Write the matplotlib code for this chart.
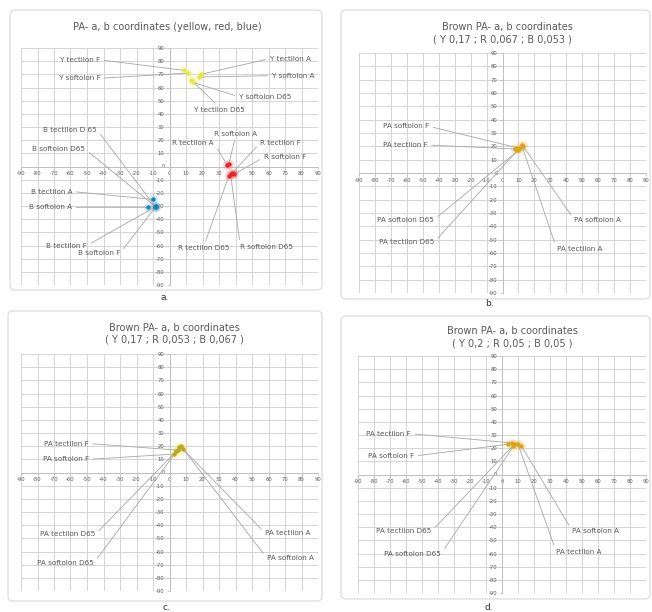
import matplotlib
matplotlib.use("Agg")
import matplotlib.pyplot as plt
from matplotlib.patches import FancyBboxPatch

plt.rcParams["axes.unicode_minus"] = False

W, H = 652, 612

# panel a: yellow, red, blue samples
y_names = ["Y tectilon F", "Y softolon F", "Y tectilon A", "Y softolon A", "Y softolon D65", "Y tectilon D65"]
y_a = [9, 11, 19, 18, 14, 13]
y_b = [73, 71, 70, 68, 64, 66]

r_names = ["R softolon A", "R tectilon A", "R tectilon F", "R softolon F", "R tectilon D65", "R softolon D65"]
r_a = [36, 35, 38, 39, 36, 37]
r_b = [2, 1, -5, -6, -7, -6]

b_names = ["B tectilon D 65", "B softolon D65", "B tectilon A", "B softolon A", "B tectilon F", "B softolon F"]
b_a = [-9, -8, -10, -13, -9, -8]
b_b = [-30, -31, -25, -31, -31, -30]

# panels b, c, d: brown samples
pa_names_b = ["PA softolon F", "PA tectilon F", "PA softolon D65", "PA tectilon D65", "PA softolon A", "PA tectilon A"]
pa_a_b = [9, 8, 10, 11, 13, 12]
pa_b_b = [19, 18, 17, 19, 20, 21]

pa_names_c = ["PA tectilon F", "PA softolon F", "PA tectilon D65", "PA softolon D65", "PA tectilon A", "PA softolon A"]
pa_a_c = [5, 3, 4, 6, 8, 7]
pa_b_c = [17, 14, 16, 19, 18, 20]

pa_names_d = ["PA tectilon F", "PA softolon F", "PA tectilon D65", "PA softolon D65", "PA softolon A", "PA tectilon A"]
pa_a_d = [6, 4, 7, 8, 12, 10]
pa_b_d = [24, 23, 22, 23, 22, 23]

ticks = list(range(-90, 100, 10))

# label placement (text anchor, alignment) per panel, same order as names
lab_y = [(-42, 81, "right"), (-42, 67, "right"), (61, 82, "left"), (62, 69, "left"), (42, 53, "left"), (30, 43, "top")]
lab_r = [(40, 25, "top"), (27, 18, "right"), (55, 18, "left"), (57, 7, "left"), (21, -62, "top"), (43, -61, "left")]
lab_bl = [(-44, 28, "right"), (-51, 13, "right"), (-59, -19, "right"), (-59, -31, "right"), (-50, -60, "right"), (-30, -66, "right")]
lab_pb = [(-46, 35, "right"), (-47, 21, "right"), (-43, -35, "right"), (-43, -52, "right"), (45, -35, "left"), (34, -57, "left")]
lab_pc = [(-49, 22, "right"), (-49, 10, "right"), (-45, -47, "right"), (-46, -69, "right"), (58, -46, "left"), (59, -65, "left")]
lab_pd = [(-57, 31, "right"), (-55, 14, "right"), (-44, -43, "right"), (-38, -60, "right"), (44, -43, "left"), (34, -59, "left")]


def px_axes(fig, l, t, r, b):
    return fig.add_axes([l / W, 1 - b / H, (r - l) / W, (b - t) / H])


def box(fig, l, t, r, b):
    p = FancyBboxPatch((l / W, 1 - b / H), (r - l) / W, (b - t) / H,
                       boxstyle="round,pad=0,rounding_size=0.008",
                       transform=fig.transFigure, fc="none", ec="#d9d9d9", lw=0.8)
    fig.patches.append(p)


def setup(ax):
    ax.set_xlim(-90, 90)
    ax.set_ylim(-90, 90)
    ax.set_xticks(ticks)
    ax.set_yticks(ticks)
    ax.grid(True, color="#d4d4d4", lw=0.7)
    for s in ["top", "right"]:
        ax.spines[s].set_visible(False)
    for s in ["left", "bottom"]:
        ax.spines[s].set_position("zero")
        ax.spines[s].set_color("#bfbfbf")
        ax.spines[s].set_linewidth(0.7)
    ax.tick_params(labelsize=3.8, labelcolor="#595959", length=2, color="#bfbfbf", width=0.5, pad=1.5)
    ax.set_facecolor("none")
    ax.set_axisbelow(True)


def labels(ax, names, xs, ys, places):
    for n, x, y, (tx, ty, al) in zip(names, xs, ys, places):
        if al == "right":
            ha, va, rel = "right", "center", (1, 0.5)
        elif al == "left":
            ha, va, rel = "left", "center", (0, 0.5)
        else:
            ha, va, rel = "center", "center", (0.5, 1) if ty < y else (0.5, 0)
        ax.annotate(n, xy=(x, y), xytext=(tx, ty), fontsize=5.2, color="#595959",
                    ha=ha, va=va, annotation_clip=False,
                    arrowprops=dict(arrowstyle="-", color="#a6a6a6", lw=0.6,
                                    shrinkA=1, shrinkB=0, relpos=rel))


def dots(ax, xs, ys, color, glow):
    ax.scatter(xs, ys, s=45, color=glow, alpha=0.35, lw=0, zorder=3)
    ax.scatter(xs, ys, s=10, color=color, lw=0, zorder=4)


fig = plt.figure(figsize=(W / 100, H / 100), dpi=100)

# boxes
box(fig, 10, 10, 322, 290)
box(fig, 341, 10, 650, 299)
box(fig, 8, 311, 322, 601)
box(fig, 341, 316, 650, 599)

title_fs = 7

# a
ax = px_axes(fig, 21, 48, 318, 285)
setup(ax)
dots(ax, y_a, y_b, "#e6e84a", "#f2f59a")
dots(ax, r_a, r_b, "#e8262a", "#f28a8c")
dots(ax, b_a, b_b, "#1f7fb0", "#8cc4e0")
labels(ax, y_names, y_a, y_b, lab_y)
labels(ax, r_names, r_a, r_b, lab_r)
labels(ax, b_names, b_a, b_b, lab_bl)
fig.text(167 / W, 1 - 27 / H, "PA- a, b coordinates (yellow, red, blue)", ha="center", va="center",
         fontsize=title_fs, color="#595959")
fig.text(165 / W, 1 - 297 / H, "a.", ha="center", va="center", fontsize=6.5, color="#333333")

# b
ax = px_axes(fig, 359, 53, 646, 293)
setup(ax)
dots(ax, pa_a_b, pa_b_b, "#d9a521", "#f0d27a")
labels(ax, pa_names_b, pa_a_b, pa_b_b, lab_pb)
fig.text(507 / W, 1 - 27 / H, "Brown PA- a, b coordinates", ha="center", va="center",
         fontsize=title_fs, color="#595959")
fig.text(502 / W, 1 - 39 / H, "( Y 0,17 ; R 0,067 ; B 0,053 )", ha="center", va="center",
         fontsize=title_fs, color="#595959")
fig.text(489 / W, 1 - 304 / H, "b.", ha="center", va="center", fontsize=6.5, color="#333333")

# c
ax = px_axes(fig, 21, 354, 318, 591)
setup(ax)
dots(ax, pa_a_c, pa_b_c, "#b8a62a", "#f5ee7a")
labels(ax, pa_names_c, pa_a_c, pa_b_c, lab_pc)
fig.text(174 / W, 1 - 328 / H, "Brown PA- a, b coordinates", ha="center", va="center",
         fontsize=title_fs, color="#595959")
fig.text(174 / W, 1 - 340 / H, "( Y 0,17 ; R 0,053 ; B 0,067 )", ha="center", va="center",
         fontsize=title_fs, color="#595959")
fig.text(166 / W, 1 - 607 / H, "c.", ha="center", va="center", fontsize=6.5, color="#333333")

# d
ax = px_axes(fig, 358, 356, 646, 593)
setup(ax)
dots(ax, pa_a_d, pa_b_d, "#d9a521", "#f0d27a")
labels(ax, pa_names_d, pa_a_d, pa_b_d, lab_pd)
fig.text(512 / W, 1 - 331 / H, "Brown PA- a, b coordinates", ha="center", va="center",
         fontsize=title_fs, color="#595959")
fig.text(512 / W, 1 - 343 / H, "( Y 0,2 ; R 0,05 ; B 0,05 )", ha="center", va="center",
         fontsize=title_fs, color="#595959")
fig.text(489 / W, 1 - 607 / H, "d.", ha="center", va="center", fontsize=6.5, color="#333333")

fig.savefig("out.png", dpi=100)
